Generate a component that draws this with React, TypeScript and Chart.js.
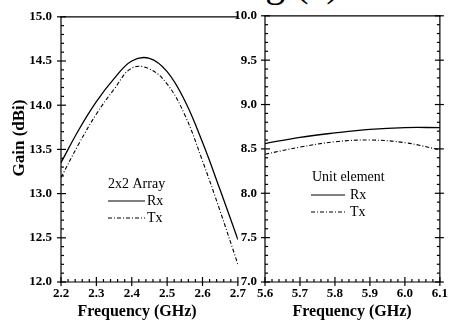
import React, { useEffect, useRef } from "react";
import { Chart, registerables } from "chart.js";

Chart.register(...registerables);

// ---- Data: 2x2 array (left panel) ----
const arrayFreq = [2.2, 2.25, 2.3, 2.35, 2.4, 2.45, 2.5, 2.55, 2.6, 2.65, 2.7];
const arrayRxGain = [13.35, 13.72, 14.04, 14.3, 14.5, 14.53, 14.38, 14.05, 13.58, 13.04, 12.48];
const arrayTxGain = [13.18, 13.56, 13.9, 14.18, 14.42, 14.41, 14.24, 13.89, 13.37, 12.8, 12.2];

// ---- Data: unit element (right panel) ----
const unitFreq = [5.6, 5.7, 5.8, 5.9, 6.0, 6.1];
const unitRxGain = [8.56, 8.63, 8.68, 8.72, 8.74, 8.74];
const unitTxGain = [8.44, 8.52, 8.58, 8.6, 8.57, 8.49];

// ---- Tick labels ----
const leftXTicks = [2.2, 2.3, 2.4, 2.5, 2.6, 2.7];
const leftYTicks = [12.0, 12.5, 13.0, 13.5, 14.0, 14.5, 15.0];
const rightXTicks = [5.6, 5.7, 5.8, 5.9, 6.0, 6.1];
const rightYTicks = [7.0, 7.5, 8.0, 8.5, 9.0, 9.5, 10.0];

const xTitle = "Frequency (GHz)";
const yTitle = "Gain (dBi)";
const leftLegendTitle = "2x2 Array";
const rightLegendTitle = "Unit element";
const seriesNames = ["Rx", "Tx"];

const SERIF = "'Liberation Serif', 'Times New Roman', serif";
const TX_DASH = [4, 2, 1, 2];

type PanelOpts = {
  rightBorder: boolean;
  legend: { title: string; tx: number; ty: number; lx0: number; lx1: number; rxY: number; txY: number; labelX: number };
  xTitlePos: [number, number];
  yTitlePos?: [number, number];
  xMinorStep: number;
  yMinorStep: number;
};

function makePlugin(o: PanelOpts) {
  return {
    id: "panelDecor",
    afterDraw(chart: any) {
      const ctx = chart.ctx;
      const { left, right, top, bottom } = chart.chartArea;
      const xs = chart.scales.x;
      const ys = chart.scales.y;
      ctx.save();
      ctx.strokeStyle = "#000";
      ctx.lineWidth = 1.2;
      ctx.setLineDash([]);
      const line = (x1: number, y1: number, x2: number, y2: number) => {
        ctx.beginPath();
        ctx.moveTo(x1, y1);
        ctx.lineTo(x2, y2);
        ctx.stroke();
      };
      // frame
      line(left, top, left, bottom + 0.6);
      line(left - 0.6, bottom, right + 0.6, bottom);
      line(left - 0.6, top, right + 0.6, top);
      if (o.rightBorder) line(right, top, right, bottom);
      // y ticks
      const yMin = ys.min, yMax = ys.max;
      const ny = Math.round((yMax - yMin) / o.yMinorStep);
      for (let i = 0; i <= ny; i++) {
        const py = ys.getPixelForValue(yMin + i * o.yMinorStep);
        const major = i % 5 === 0;
        if (major) line(left - 4, py, left + 5, py);
        else line(left, py, left + 3, py);
        if (o.rightBorder) {
          if (major) line(right - 5, py, right + 4, py);
          else line(right - 3, py, right, py);
        }
      }
      // x ticks
      const xMin = xs.min, xMax = xs.max;
      const nx = Math.round((xMax - xMin) / o.xMinorStep);
      for (let i = 0; i <= nx; i++) {
        const px = xs.getPixelForValue(xMin + i * o.xMinorStep);
        const major = i % 5 === 0;
        if (major) line(px, bottom + 4, px, bottom - 5);
        else line(px, bottom, px, bottom - 3);
      }
      // legend
      const L = o.legend;
      ctx.fillStyle = "#000";
      ctx.font = `14px ${SERIF}`;
      ctx.textBaseline = "middle";
      ctx.textAlign = "left";
      ctx.fillText(L.title, L.tx, L.ty);
      ctx.lineWidth = 1.2;
      line(L.lx0, L.rxY, L.lx1, L.rxY);
      ctx.fillText(seriesNames[0], L.labelX, L.rxY);
      ctx.setLineDash(TX_DASH);
      line(L.lx0, L.txY, L.lx1, L.txY);
      ctx.setLineDash([]);
      ctx.fillText(seriesNames[1], L.labelX, L.txY);
      // axis titles
      ctx.font = `bold 16px ${SERIF}`;
      ctx.textAlign = "center";
      ctx.fillText(xTitle, o.xTitlePos[0], o.xTitlePos[1]);
      if (o.yTitlePos) {
        ctx.save();
        ctx.translate(o.yTitlePos[0], o.yTitlePos[1]);
        ctx.rotate(-Math.PI / 2);
        ctx.font = `bold 17px ${SERIF}`;
        ctx.fillText(yTitle, 0, 0);
        ctx.restore();
      }
      ctx.restore();
    },
  };
}

function zip(xs: number[], ys: number[]) {
  return xs.map((x, i) => ({ x, y: ys[i] }));
}

function buildConfig(p: {
  rx: { x: number; y: number }[];
  tx: { x: number; y: number }[];
  xTicks: number[];
  yTicks: number[];
  yAxisWidth: number;
  rightPad: number;
  yLabelPad: number;
  plugin: any;
}) {
  const tickFont = { family: SERIF, size: 13, weight: "bold" as const };
  return {
    type: "line" as const,
    data: {
      datasets: [
        {
          label: seriesNames[0],
          data: p.rx,
          borderColor: "#000",
          borderWidth: 1.3,
          pointRadius: 0,
          tension: 0.4,
          fill: false,
        },
        {
          label: seriesNames[1],
          data: p.tx,
          borderColor: "#000",
          borderWidth: 1.1,
          borderDash: TX_DASH,
          pointRadius: 0,
          tension: 0.4,
          fill: false,
        },
      ],
    },
    options: {
      responsive: false,
      animation: false as const,
      devicePixelRatio: 1,
      layout: { padding: { top: 15, right: p.rightPad, left: 0, bottom: 0 } },
      plugins: { legend: { display: false }, tooltip: { enabled: false }, title: { display: false } },
      scales: {
        x: {
          type: "linear" as const,
          min: p.xTicks[0],
          max: p.xTicks[p.xTicks.length - 1],
          grid: { display: false, drawTicks: false },
          border: { display: false },
          afterBuildTicks: (s: any) => {
            s.ticks = p.xTicks.map((v) => ({ value: v }));
          },
          afterFit: (s: any) => {
            s.height = 40;
          },
          ticks: {
            color: "#000",
            font: tickFont,
            padding: 4,
            maxRotation: 0,
            autoSkip: false,
            callback: (v: any) => Number(v).toFixed(1),
          },
        },
        y: {
          type: "linear" as const,
          min: p.yTicks[0],
          max: p.yTicks[p.yTicks.length - 1],
          grid: { display: false, drawTicks: false },
          border: { display: false },
          afterBuildTicks: (s: any) => {
            s.ticks = p.yTicks.map((v) => ({ value: v }));
          },
          afterFit: (s: any) => {
            s.width = p.yAxisWidth;
          },
          ticks: {
            color: "#000",
            font: tickFont,
            padding: p.yLabelPad,
            autoSkip: false,
            callback: (v: any) => Number(v).toFixed(1),
          },
        },
      },
    },
    plugins: [p.plugin],
  };
}

export default function App() {
  const leftRef = useRef<HTMLCanvasElement>(null);
  const rightRef = useRef<HTMLCanvasElement>(null);

  useEffect(() => {
    const left = new Chart(
      leftRef.current as HTMLCanvasElement,
      buildConfig({
        rx: zip(arrayFreq, arrayRxGain),
        tx: zip(arrayFreq, arrayTxGain),
        xTicks: leftXTicks,
        yTicks: leftYTicks,
        yAxisWidth: 61,
        rightPad: 10,
        yLabelPad: 9,
        plugin: makePlugin({
          rightBorder: false,
          legend: { title: leftLegendTitle, tx: 108, ty: 184, lx0: 108, lx1: 145, rxY: 201, txY: 218, labelX: 147 },
          xTitlePos: [137, 312],
          yTitlePos: [20, 138],
          xMinorStep: 0.02,
          yMinorStep: 0.1,
        }),
      }) as any
    );
    const right = new Chart(
      rightRef.current as HTMLCanvasElement,
      buildConfig({
        rx: zip(unitFreq, unitRxGain),
        tx: zip(unitFreq, unitTxGain),
        xTicks: rightXTicks,
        yTicks: rightYTicks,
        yAxisWidth: 60,
        rightPad: 7,
        yLabelPad: 8,
        plugin: makePlugin({
          rightBorder: true,
          legend: { title: rightLegendTitle, tx: 107, ty: 177, lx0: 106, lx1: 140, rxY: 195, txY: 212, labelX: 145 },
          xTitlePos: [147, 312],
          xMinorStep: 0.02,
          yMinorStep: 0.1,
        }),
      }) as any
    );
    return () => {
      left.destroy();
      right.destroy();
    };
  }, []);

  return (
    <div style={{ position: "absolute", left: 0, top: 0, width: 452, height: 322, overflow: "hidden", background: "#fff" }}>
      <div
        style={{
          position: "absolute",
          left: 63,
          top: -37,
          fontFamily: SERIF,
          fontSize: 40,
          lineHeight: "40px",
          whiteSpace: "nowrap",
          color: "#000",
        }}
      >
        Beamforming (a)
      </div>
      <canvas ref={leftRef} width={250} height={322} style={{ position: "absolute", left: 0, top: 0, width: 250, height: 322 }} />
      <canvas ref={rightRef} width={247} height={322} style={{ position: "absolute", left: 205, top: 0, width: 247, height: 322 }} />
    </div>
  );
}
